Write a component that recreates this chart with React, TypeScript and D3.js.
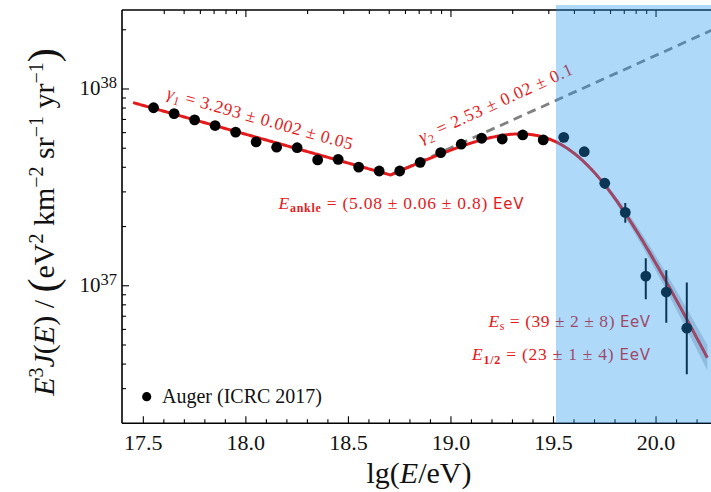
import React from 'react';
import * as d3 from 'd3';

// ---------- data ----------
const lgE = [17.55, 17.65, 17.75, 17.85, 17.95, 18.05, 18.15, 18.25, 18.35, 18.45, 18.55, 18.65, 18.75, 18.85, 18.95, 19.05, 19.15, 19.25, 19.35, 19.45, 19.55, 19.65, 19.75, 19.85, 19.95, 20.05, 20.15];
// E^3 J(E) in units of 1e37 eV^2 km^-2 sr^-1 yr^-1
const flux37 = [8.03, 7.5, 6.97, 6.52, 6.04, 5.38, 5.06, 5.03, 4.36, 4.39, 4.01, 3.83, 3.83, 4.24, 4.75, 5.24, 5.62, 5.57, 5.84, 5.51, 5.68, 4.8, 3.32, 2.36, 1.12, 0.929, 0.609];
const errLo37: (number | null)[] = [null, null, null, null, null, null, null, null, null, null, null, null, null, null, null, null, null, null, null, null, null, null, 3.1, 2.09, 0.853, 0.648, 0.355];
const errHi37: (number | null)[] = [null, null, null, null, null, null, null, null, null, null, null, null, null, null, null, null, null, null, null, null, null, null, 3.53, 2.63, 1.38, 1.2, 1.04];

// fit parameters
const gamma1 = 3.293;
const gamma2 = 2.53;
const eAnkle = 5.08; // EeV
const eS = 39; // EeV
const dGamma = 2.5;
const dGammaErr = 0.1;
const ankleFlux37 = 3.655;
const fitStart = 17.45;
const fitEnd = 20.25;
const bandStart = 19.55;
const suppressionStart = 19.512;

const xMajorTicks = [17.5, 18.0, 18.5, 19.0, 19.5, 20.0];
const xMinorTicks = [17.6, 17.7, 17.8, 17.9, 18.1, 18.2, 18.3, 18.4, 18.6, 18.7, 18.8, 18.9, 19.1, 19.2, 19.3, 19.4, 19.6, 19.7, 19.8, 19.9, 20.1, 20.2];
const topMajorEeV = [1, 10, 100];
const topMinorEeV = [0.4, 0.5, 0.6, 0.7, 0.8, 0.9, 2, 3, 4, 5, 6, 7, 8, 9, 20, 30, 40, 50, 60, 70, 80, 90];
const yMajorTicks = [1e37, 1e38];
const yMajorExp = ['37', '38'];
const yMinorTicks = [3e36, 4e36, 5e36, 6e36, 7e36, 8e36, 9e36, 2e37, 3e37, 4e37, 5e37, 6e37, 7e37, 8e37, 9e37, 2e38];

// ---------- layout ----------
const W = 711, H = 492;
const L = 122, R = 711, T = 10, B = 423.3;
const x = d3.scaleLinear().domain([17.396, 20.268]).range([L, R]);
const y = d3.scaleLog().domain([2e36, 2.52e38]).range([B, T]);

const RED = '#e41a1c';
const serif = "'Liberation Serif', 'DejaVu Serif', serif";
const sans = "'DejaVu Sans', 'Liberation Sans', sans-serif";

function fit(lg: number, dg: number = dGamma): number {
  const E = Math.pow(10, lg - 18);
  const A = ankleFlux37 * 1e37;
  if (E < eAnkle) return A * Math.pow(E / eAnkle, 3 - gamma1);
  return A * Math.pow(E / eAnkle, 3 - gamma2) * (1 + Math.pow(eAnkle / eS, dg)) / (1 + Math.pow(E / eS, dg));
}

export default function App() {
  const lgAnkle = 18 + Math.log10(eAnkle);
  const samples = d3.range(fitStart, fitEnd + 1e-9, 0.005).concat([lgAnkle]).sort((a, b) => a - b);
  const line = d3.line<number>().x(d => x(d)).y(d => y(fit(d)));
  const fitPath = line(samples) || '';
  const bandSamples = d3.range(bandStart, fitEnd + 1e-9, 0.005);
  const area = d3.area<number>()
    .x(d => x(d))
    .y0(d => y(Math.min(fit(d, dGamma - dGammaErr), fit(d, dGamma + dGammaErr))))
    .y1(d => y(Math.max(fit(d, dGamma - dGammaErr), fit(d, dGamma + dGammaErr))));
  const bandPath = area(bandSamples) || '';
  const extrap = (lg: number) => ankleFlux37 * 1e37 * Math.pow(10, (lg - lgAnkle) * (3 - gamma2));
  const dashPath = d3.line<number>().x(d => x(d)).y(d => y(extrap(d)))([lgAnkle, 20.4]) || '';

  const angle1 = -Math.atan((y(fit(18.5)) - y(fit(17.5))) / (x(17.5) - x(18.5))) * 180 / Math.PI;
  const angle2 = -24.5;

  return (
    <svg width={W} height={H} style={{ position: 'absolute', left: 0, top: 0, background: '#fff' }}>
      <defs>
        <clipPath id="plot"><rect x={L} y={T} width={R - L + 5} height={B - T} /></clipPath>
      </defs>
      <rect x={0} y={0} width={W} height={H} fill="#fff" />

      {/* axes frame */}
      <g stroke="#000" strokeWidth={1.6} fill="none">
        <line x1={L} y1={T} x2={W + 2} y2={T} />
        <line x1={L} y1={B} x2={W + 2} y2={B} />
        <line x1={L} y1={T} x2={L} y2={B} />
      </g>
      {/* ticks */}
      <g stroke="#000" strokeWidth={1.1}>
        {xMajorTicks.map(v => <line key={'xb' + v} x1={x(v)} x2={x(v)} y1={B} y2={B - 7} />)}
        {xMinorTicks.map(v => <line key={'xm' + v} x1={x(v)} x2={x(v)} y1={B} y2={B - 4} />)}
        {topMajorEeV.map(v => <line key={'tM' + v} x1={x(18 + Math.log10(v))} x2={x(18 + Math.log10(v))} y1={T} y2={T + 7} />)}
        {topMinorEeV.map(v => <line key={'tm' + v} x1={x(18 + Math.log10(v))} x2={x(18 + Math.log10(v))} y1={T} y2={T + 4} />)}
        {yMajorTicks.map(v => <line key={'yM' + v} x1={L} x2={L + 7} y1={y(v)} y2={y(v)} />)}
        {yMinorTicks.map(v => <line key={'ym' + v} x1={L} x2={L + 4} y1={y(v)} y2={y(v)} />)}
      </g>
      {/* tick labels */}
      <g fontFamily={serif} fontSize={22} fill="#111">
        {xMajorTicks.map(v => (
          <text key={'xl' + v} x={x(v)} y={450} textAnchor="middle">{v.toFixed(1)}</text>
        ))}
      </g>
      <g fontFamily={serif} fill="#111">
        {yMajorTicks.map((v, i) => (
          <text key={'yl' + v} x={117} y={y(v) + 6.5} textAnchor="end" fontSize={21}>
            10<tspan fontSize={16.5} dy={-7.5}>{yMajorExp[i]}</tspan>
          </text>
        ))}
      </g>

      {/* axis titles */}
      <text x={419} y={483} textAnchor="middle" fontFamily={serif} fontSize={30} fill="#111">
        lg(<tspan fontStyle="italic">E</tspan>/eV)
      </text>
      <text transform="translate(54,222) rotate(-90)" textAnchor="middle" fontFamily={serif} fontSize={30} fill="#111">
        <tspan fontStyle="italic">E</tspan><tspan fontSize={20} dy={-11}>3</tspan><tspan dy={11} fontStyle="italic">J</tspan>(<tspan fontStyle="italic">E</tspan>) / <tspan fontSize={42} dy={3}>(</tspan><tspan dy={-3}>eV</tspan><tspan fontSize={20} dy={-11}>2</tspan><tspan dy={11}> km</tspan><tspan fontSize={20} dy={-11}>−2</tspan><tspan dy={11}> sr</tspan><tspan fontSize={20} dy={-11}>−1</tspan><tspan dy={11}> yr</tspan><tspan fontSize={20} dy={-11}>−1</tspan><tspan fontSize={42} dy={14}>)</tspan>
      </text>

      <g clipPath="url(#plot)">
        {/* uncertainty band */}
        <path d={bandPath} fill="#a3a6b4" fillOpacity={0.5} stroke="none" />
        {/* extrapolation */}
        <path d={dashPath} fill="none" stroke="#808080" strokeWidth={2.8} strokeDasharray="9,6" />
        {/* fit */}
        <path d={fitPath} fill="none" stroke={RED} strokeWidth={3} strokeLinejoin="round" />
        {/* error bars */}
        {lgE.map((v, i) => (errLo37[i] != null && errHi37[i] != null) ? (
          <line key={'e' + v} x1={x(v)} x2={x(v)} y1={y((errLo37[i] as number) * 1e37)} y2={y((errHi37[i] as number) * 1e37)} stroke="#000" strokeWidth={2} />
        ) : null)}
        {/* points */}
        {lgE.map((v, i) => (
          <circle key={'p' + v} cx={x(v)} cy={y(flux37[i] * 1e37)} r={5.4} fill="#000" />
        ))}
      </g>

      {/* annotations */}
      <g fill={RED} fontFamily={serif} fontSize={17.5}>
        <text transform={`translate(166,98) rotate(${angle1})`} textLength={192} lengthAdjust="spacing">
          <tspan fontStyle="italic">γ</tspan><tspan fontSize={12} dy={4}>1</tspan><tspan dy={-4}> = 3.293 ± 0.002 ± 0.05</tspan>
        </text>
        <text transform={`translate(422,143) rotate(${angle2})`} textLength={167} lengthAdjust="spacing">
          <tspan fontStyle="italic">γ</tspan><tspan fontSize={12} dy={4}>2</tspan><tspan dy={-4}> = 2.53 ± 0.02 ± 0.1</tspan>
        </text>
        <text x={278.5} y={208.5} textLength={245} lengthAdjust="spacing">
          <tspan fontStyle="italic">E</tspan><tspan fontSize={12} fontWeight="bold" dy={3}>ankle</tspan><tspan dy={-3}> = (5.08 ± 0.06 ± 0.8) </tspan><tspan fontFamily={sans} fontSize={15}>EeV</tspan>
        </text>
        <text x={488.5} y={327} textLength={161.5} lengthAdjust="spacing">
          <tspan fontStyle="italic">E</tspan><tspan fontSize={12} dy={3}>s</tspan><tspan dy={-3}> = (39 ± 2 ± 8) </tspan><tspan fontFamily={sans} fontSize={15}>EeV</tspan>
        </text>
        <text x={472} y={360} textLength={178} lengthAdjust="spacing">
          <tspan fontStyle="italic">E</tspan><tspan fontSize={12} fontWeight="bold" dy={4}>1/2</tspan><tspan dy={-4}> = (23 ± 1 ± 4) </tspan><tspan fontFamily={sans} fontSize={15}>EeV</tspan>
        </text>
      </g>

      {/* legend */}
      <circle cx={146.7} cy={396.7} r={4.6} fill="#000" />
      <text x={162} y={403} fontFamily={serif} fontSize={20} fill="#111">Auger (ICRC 2017)</text>

      {/* suppression region overlay */}
      <rect x={x(suppressionStart)} y={T - 5} width={R - x(suppressionStart) + 2} height={B - T + 5} fill="#1e96eb" fillOpacity={0.36} />
    </svg>
  );
}
